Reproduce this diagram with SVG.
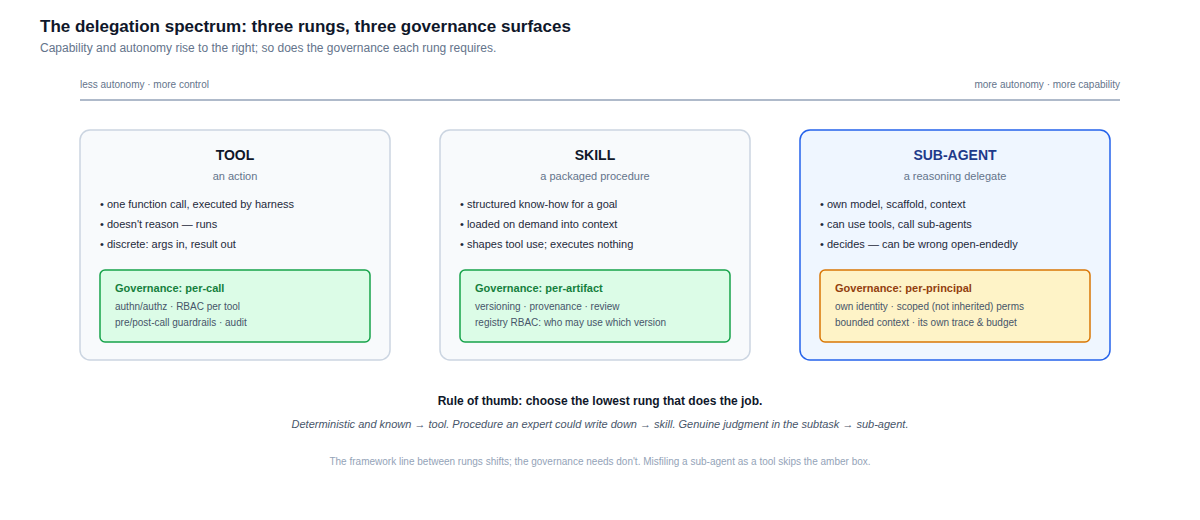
<svg xmlns="http://www.w3.org/2000/svg" width="1200" height="520" viewBox="0 0 1200 520">
<style>
text{font-family:"Liberation Sans",Arial,sans-serif}
.card{fill:#f8fafc;stroke:#cbd5e1;stroke-width:1.5}
.cardA{fill:#eff6ff;stroke:#2563eb;stroke-width:1.5}
.h{font-size:14px;font-weight:bold;fill:#0f172a;text-anchor:middle}
.sub{font-size:11px;fill:#64748b;text-anchor:middle}
.b{font-size:11px;fill:#1e293b}
.g{fill:#dcfce7;stroke:#16a34a;stroke-width:1.5}
.a{fill:#fef3c7;stroke:#d97706;stroke-width:1.5}
.gt{font-size:11px;font-weight:bold;fill:#15803d}
.at{font-size:11px;font-weight:bold;fill:#92400e}
.gs{font-size:10px;fill:#475569}
</style>
<rect width="1200" height="520" fill="#ffffff"/>
<text x="40" y="32" font-size="17" font-weight="bold" fill="#0f172a">The delegation spectrum: three rungs, three governance surfaces</text>
<text x="40" y="52" font-size="12" fill="#64748b">Capability and autonomy rise to the right; so does the governance each rung requires.</text>
<g id="axis">
<text x="80" y="88" font-size="10" fill="#64748b">less autonomy · more control</text>
<text x="1120" y="88" font-size="10" fill="#64748b" text-anchor="end">more autonomy · more capability</text>
<line x1="80" y1="100" x2="1120" y2="100" stroke="#94a3b8" stroke-width="1.5"/>
</g>
<g id="tool">
<rect class="card" x="80" y="130" width="310" height="230" rx="10"/>
<text class="h" x="235" y="160">TOOL</text>
<text class="sub" x="235" y="180">an action</text>
<text class="b" x="100" y="208">• one function call, executed by harness</text>
<text class="b" x="100" y="228">• doesn't reason — runs</text>
<text class="b" x="100" y="248">• discrete: args in, result out</text>
<rect class="g" x="100" y="270" width="270" height="72" rx="5"/>
<text class="gt" x="115" y="292">Governance: per-call</text>
<text class="gs" x="115" y="310">authn/authz · RBAC per tool</text>
<text class="gs" x="115" y="326">pre/post-call guardrails · audit</text>
</g>
<g id="skill">
<rect class="card" x="440" y="130" width="310" height="230" rx="10"/>
<text class="h" x="595" y="160">SKILL</text>
<text class="sub" x="595" y="180">a packaged procedure</text>
<text class="b" x="460" y="208">• structured know-how for a goal</text>
<text class="b" x="460" y="228">• loaded on demand into context</text>
<text class="b" x="460" y="248">• shapes tool use; executes nothing</text>
<rect class="g" x="460" y="270" width="270" height="72" rx="5"/>
<text class="gt" x="475" y="292">Governance: per-artifact</text>
<text class="gs" x="475" y="310">versioning · provenance · review</text>
<text class="gs" x="475" y="326">registry RBAC: who may use which version</text>
</g>
<g id="subagent">
<rect class="cardA" x="800" y="130" width="310" height="230" rx="10"/>
<text class="h" x="955" y="160" style="fill:#1e3a8a">SUB-AGENT</text>
<text class="sub" x="955" y="180">a reasoning delegate</text>
<text class="b" x="820" y="208">• own model, scaffold, context</text>
<text class="b" x="820" y="228">• can use tools, call sub-agents</text>
<text class="b" x="820" y="248">• decides — can be wrong open-endedly</text>
<rect class="a" x="820" y="270" width="270" height="72" rx="5"/>
<text class="at" x="835" y="292">Governance: per-principal</text>
<text class="gs" x="835" y="310">own identity · scoped (not inherited) perms</text>
<text class="gs" x="835" y="326">bounded context · its own trace &amp; budget</text>
</g>
<g id="connectors"/>
<text x="600" y="405" font-size="12" font-weight="bold" fill="#0f172a" text-anchor="middle">Rule of thumb: choose the lowest rung that does the job.</text>
<text x="600" y="428" font-size="11" font-style="italic" fill="#475569" text-anchor="middle">Deterministic and known → tool. Procedure an expert could write down → skill. Genuine judgment in the subtask → sub-agent.</text>
<text x="600" y="465" font-size="10" fill="#94a3b8" text-anchor="middle">The framework line between rungs shifts; the governance needs don't. Misfiling a sub-agent as a tool skips the amber box.</text>
</svg>
